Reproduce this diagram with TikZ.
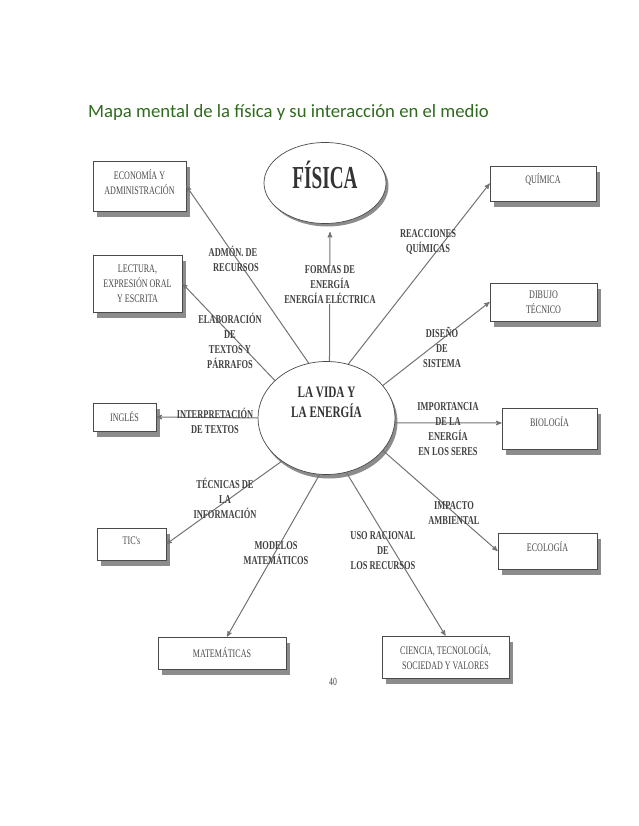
\documentclass[tikz,border=0pt]{standalone}
\usepackage{fontspec}
\setmainfont{Liberation Serif}
\newfontfamily\escaneo[FakeStretch=0.7]{Liberation Serif}
\newfontfamily\escaneoancho[FakeStretch=0.6]{Liberation Serif}
\newfontfamily\titulo{Carlito}
\usetikzlibrary{arrows,shapes.geometric,shadows}
\definecolor{verdetitulo}{HTML}{2F6B1F}
\definecolor{tinta}{HTML}{4A4A4A}
\definecolor{sombra}{HTML}{8C8C8C}

\begin{document}
\begin{tikzpicture}[>=stealth',x=1pt,y=-1pt,
        cajon/.style={rectangle,draw=tinta,line width=0.7pt,fill=white,inner sep=0pt,align=center,text=tinta,
            font=\escaneo\fontsize{11.5}{15}\selectfont,
            general shadow={shadow xshift=3.5pt,shadow yshift=-6pt,fill=sombra}},
        globo/.style={ellipse,draw=tinta,line width=0.7pt,fill=white,inner sep=0pt,align=center,text=black!80},
        etiqueta/.style={align=center,inner sep=0pt,text=black!75,font=\escaneo\bfseries\fontsize{12}{15}\selectfont},
        rama/.style={->,draw=black!55,line width=1pt}]
    \useasboundingbox (0,0) rectangle (638,826);
    \node[anchor=base west,inner sep=0pt,text=verdetitulo,font=\titulo\fontsize{18.7}{22}\selectfont] (mapa) at (88,118) {Mapa mental de la física y su interacción en el medio};

    \node[cajon,minimum width=93pt,minimum height=50pt,text depth=7pt] (economia) at (139.5,186) {ECONOMÍA Y\\ADMINISTRACIÓN};
    \node[cajon,minimum width=89pt,minimum height=57pt] (lectura) at (137.5,283.5) {LECTURA,\\EXPRESIÓN ORAL\\Y ESCRITA};
    \node[cajon,minimum width=63pt,minimum height=28pt] (ingles) at (124.5,417) {INGLÉS};
    \node[cajon,minimum width=69pt,minimum height=32pt,text depth=6pt] (tics) at (131.5,544) {TIC's};
    \node[cajon,minimum width=128pt,minimum height=32pt] (matematicas) at (222,653) {MATEMÁTICAS};
    \node[cajon,minimum width=127pt,minimum height=42pt] (ciencia) at (445.5,657) {CIENCIA, TECNOLOGÍA,\\SOCIEDAD Y VALORES};
    \node[cajon,minimum width=99pt,minimum height=36pt,text depth=9pt] (ecologia) at (547.5,551) {ECOLOGÍA};
    \node[cajon,minimum width=95pt,minimum height=41pt,text depth=14pt] (biologia) at (549.5,428.5) {BIOLOGÍA};
    \node[cajon,minimum width=107pt,minimum height=38pt] (dibujo) at (543.5,302) {DIBUJO\\TÉCNICO};
    \node[cajon,minimum width=106pt,minimum height=35pt,text depth=9pt] (quimica) at (543,183.5) {QUÍMICA};

    \node[globo,minimum width=122pt,minimum height=81pt,text depth=16pt,font=\escaneoancho\bfseries\fontsize{32}{34}\selectfont,
        general shadow={shadow xshift=2.5pt,shadow yshift=-3pt,fill=sombra}] (fisica) at (325,183) {FÍSICA};
    \node[globo,minimum width=137pt,minimum height=113pt,text depth=32pt,font=\escaneo\bfseries\fontsize{16}{20}\selectfont,
        general shadow={shadow xshift=2.5pt,shadow yshift=-4pt,fill=sombra}] (vida) at (326.5,418) {LA VIDA Y\\LA ENERGÍA};

    \coordinate (puntafisica) at (330,232);

    \path
        (vida.108) edge [rama] (economia.east)
        (vida.144) edge [rama] (lectura.east)
        (vida.87)  edge [rama] (puntafisica)
        (vida.68)  edge [rama] (quimica.west)
        (vida.30)  edge [rama] (dibujo.west)
        (vida.-4)  edge [rama] ([yshift=5.5pt]biologia.west)
        (vida.-30) edge [rama] (ecologia.west)
        (vida.-70) edge [rama] (ciencia.north)
        (vida.-97) edge [rama] ([xshift=5pt]matematicas.north)
        (vida.-136) edge [rama] (tics.east)
        (vida.180) edge [rama] (ingles.east);

    \node[etiqueta] (admon) at (233,259) {ADMÓN. DE\\\hspace*{6pt}RECURSOS};
    \node[etiqueta,fill=white] (formas) at (330,285) {FORMAS DE\\ENERGÍA\\ENERGÍA ELÉCTRICA};
    \node[etiqueta] (elaboracion) at (230,341) {ELABORACIÓN\\DE\\TEXTOS Y\\PÁRRAFOS};
    \node[etiqueta] (reacciones) at (428,242) {REACCIONES\\QUÍMICAS};
    \node[etiqueta] (diseno) at (442,347) {DISEÑO\\DE\\SISTEMA};
    \node[etiqueta] (importancia) at (448,429) {IMPORTANCIA\\DE LA\\ENERGÍA\\EN LOS SERES};
    \node[etiqueta] (impacto) at (454,513) {IMPACTO\\AMBIENTAL};
    \node[etiqueta] (uso) at (383,551) {USO RACIONAL\\DE\\LOS RECURSOS};
    \node[etiqueta] (interpretacion) at (215,421) {INTERPRETACIÓN\\DE TEXTOS};
    \node[etiqueta] (tecnicas) at (225,498) {TÉCNICAS DE\\LA\\INFORMACIÓN};
    \node[etiqueta] (modelos) at (276,553) {MODELOS\\MATEMÁTICOS};
    \node[etiqueta,font=\escaneo\fontsize{11}{13}\selectfont] (pagina) at (333,682) {40};
\end{tikzpicture}
\end{document}
